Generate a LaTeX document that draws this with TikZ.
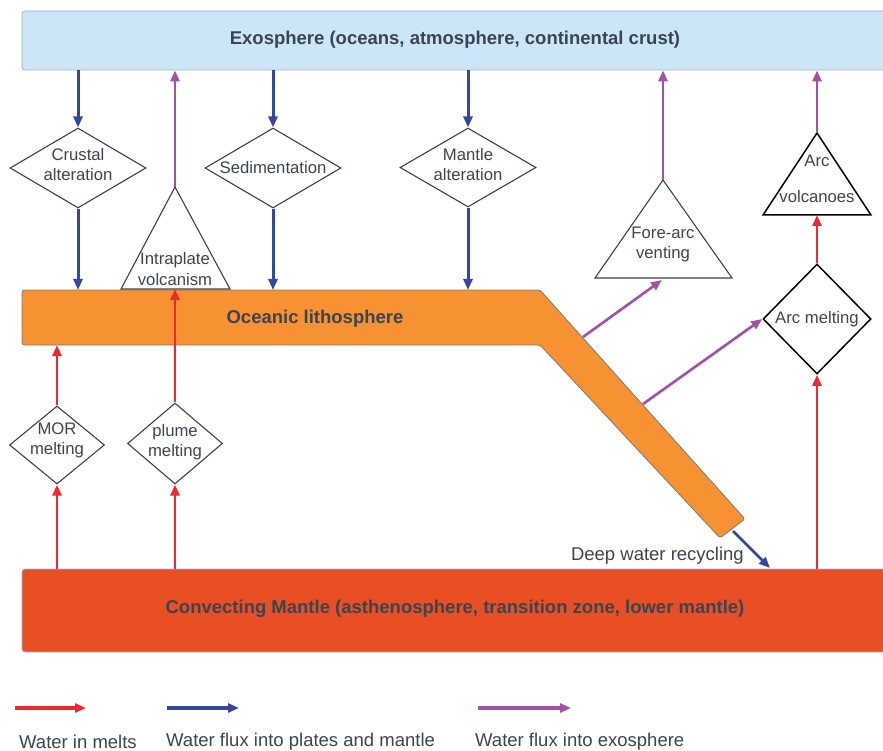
\documentclass[tikz,border=0pt]{standalone}
\usepackage{fontspec}
\setmainfont{Liberation Sans}
\usetikzlibrary{shapes.geometric,arrows.meta,calc}
\definecolor{txt}{HTML}{3B4451}
\definecolor{exofill}{HTML}{CCE5F7}
\definecolor{exoline}{HTML}{A2AEDD}
\definecolor{mantfill}{HTML}{E84F25}
\definecolor{lithfill}{HTML}{F79232}
\definecolor{lithline}{HTML}{7B7B7B}
\definecolor{cred}{HTML}{EE2A2E}
\definecolor{cblue}{HTML}{3347A0}
\definecolor{cpurp}{HTML}{A54FA8}
\definecolor{shline}{HTML}{3C4148}
\tikzset{
  lbl/.style={font=\fontsize{16.7}{20}\selectfont, text=txt, align=center, inner sep=0pt},
  biglbl/.style={font=\fontsize{18.5}{22}\selectfont, text=txt, inner sep=0pt},
  bigbox/.style={rectangle, rounded corners=3pt, minimum width=868pt, inner sep=0pt,
     font=\bfseries\fontsize{18.5}{22}\selectfont, text=txt},
  dbox/.style={diamond, draw=shline, line width=1.1pt, inner sep=0pt},
  tri/.style={draw=shline, line width=1.1pt, line join=miter},
  tip/.style={-{Triangle[length=11pt,width=9pt]}},
  redarr/.style={tip, draw=cred, line width=2.8pt},
  bluearr/.style={tip, draw=cblue, line width=3pt},
  purparr/.style={tip, draw=cpurp, line width=2.6pt},
}
\begin{document}
\begin{tikzpicture}[x=1pt,y=-1pt]
\useasboundingbox (0,0) rectangle (883,751);

% big boxes
\node[bigbox, fill=exofill, draw=exoline, line width=0.8pt, minimum height=59pt] (exo) at (456,40.5) {};
\node[bigbox] (exot) at (455,40) {Exosphere (oceans, atmosphere, continental crust)};
\node[bigbox, fill=mantfill, draw=exoline, line width=0.8pt, minimum height=83pt] (mantle) at (456,610.5) {};
\node[bigbox] (mantt) at (455,609) {Convecting Mantle (asthenosphere, transition zone, lower mantle)};

% oceanic lithosphere
\coordinate (lA) at (22,290);
\coordinate (lB) at (540,290);
\coordinate (lC) at (745,519);
\coordinate (lD) at (720,538);
\coordinate (lE) at (540,345);
\coordinate (lF) at (22,345);
\draw[fill=lithfill, draw=lithline, line width=0.8pt, rounded corners=2.5pt]
  (lA) -- (lB) -- (lC) -- (lD) -- (lE) -- (lF) -- cycle;
\node[font=\bfseries\fontsize{18.5}{22}\selectfont, text=txt] (lith) at (315,319) {Oceanic lithosphere};

% diamonds
\node[dbox, minimum width=136pt, minimum height=80pt] (crust) at (78,168) {};
\node[lbl] (crustt) at (78,164.5) {Crustal\\alteration};
\node[dbox, minimum width=136pt, minimum height=80pt] (sed) at (273,168) {};
\node[lbl] (sedt) at (273,167.5) {Sedimentation};
\node[dbox, minimum width=136pt, minimum height=79pt] (malt) at (468,167.5) {};
\node[lbl] (maltt) at (468,164.5) {Mantle\\alteration};
\node[dbox, draw=black, line width=1.5pt, minimum width=108pt, minimum height=110pt] (arcm) at (817,319) {};
\node[lbl] (arcmt) at (817,319.5) {Arc melting};
\node[dbox, minimum width=95pt, minimum height=78pt] (mor) at (57,445) {};
\node[lbl] (mort) at (57,440.5) {MOR\\melting};
\node[dbox, minimum width=95pt, minimum height=81pt] (plume) at (175,443.5) {};
\node[lbl] (plumet) at (175,442.5) {plume\\melting};

% triangles
\coordinate (iA) at (175,187); \coordinate (iL) at (121,289); \coordinate (iR) at (230,289);
\draw[tri, fill=white] (iA) -- (iL) -- (iR) -- cycle;
\node[lbl, font=\fontsize{16.7}{21}\selectfont] (intra) at (175,269.5) {Intraplate\\volcanism};
\coordinate (fA) at (663,180); \coordinate (fL) at (595,278); \coordinate (fR) at (732,278);
\draw[tri] (fA) -- (fL) -- (fR) -- cycle;
\node[lbl] (fore) at (663,244.5) {Fore-arc\\venting};
\coordinate (vA) at (817,133); \coordinate (vL) at (763,215); \coordinate (vR) at (871,215);
\draw[tri, draw=black, line width=1.5pt] (vA) -- (vL) -- (vR) -- cycle;
\node[lbl, font=\fontsize{16.7}{36}\selectfont] (arcv) at (817,179) {Arc\\volcanoes};

% blue fluxes
\draw[bluearr] (exo.south -| crust.north) -- (crust.north);
\draw[bluearr] (crust.south) -- (crust.south |- lA);
\draw[bluearr] (exo.south -| sed.north) -- (sed.north);
\draw[bluearr] (sed.south) -- (sed.south |- lA);
\draw[bluearr] (exo.south -| malt.north) -- (malt.north);
\draw[bluearr] (malt.south) -- (malt.south |- lA);

% purple fluxes to exosphere
\draw[purparr] (iA) -- (iA |- exo.south);
\draw[purparr] (fA) -- (fA |- exo.south);
\draw[purparr] (vA) -- (vA |- exo.south);
\coordinate (p1s) at (583,337);
\coordinate (p1e) at (662,280);
\draw[purparr] (p1s) -- (p1e);
\coordinate (p2s) at (643,404);
\draw[purparr] (p2s) -- (arcm.west);

% red melts
\draw[redarr] (mor.south |- mantle.north) -- (mor.south);
\draw[redarr] (mor.north) -- (mor.north |- lF);
\draw[redarr] (plume.south |- mantle.north) -- (plume.south);
\draw[redarr] (plume.north) -- (plume.north |- iL);
\draw[redarr] (arcm.south |- mantle.north) -- (arcm.south);
\draw[redarr] (arcm.north) -- (arcm.north |- vL);

% deep water recycling
\coordinate (dws) at (733,531);
\coordinate (dwe) at (770,568);
\draw[bluearr, line width=2.8pt] (dws) -- (dwe);
\node[biglbl, anchor=east] (dwl) at (744,555.5) {Deep water recycling};

% legend
\coordinate (r1) at (15,708); \coordinate (r2) at (86,708);
\coordinate (b1) at (167,708); \coordinate (b2) at (239,708);
\coordinate (m1) at (478,708); \coordinate (m2) at (571,708);
\draw[redarr, line width=3.2pt] (r1) -- (r2);
\draw[bluearr, line width=3.2pt] (b1) -- (b2);
\draw[purparr, line width=3.2pt] (m1) -- (m2);
\node[biglbl, anchor=west] (lg1) at (19,741.5) {Water in melts};
\node[biglbl, anchor=west] (lg2) at (166,741.5) {Water flux into plates and mantle};
\node[biglbl, anchor=west] (lg3) at (475,741.5) {Water flux into exosphere};
\end{tikzpicture}
\end{document}
